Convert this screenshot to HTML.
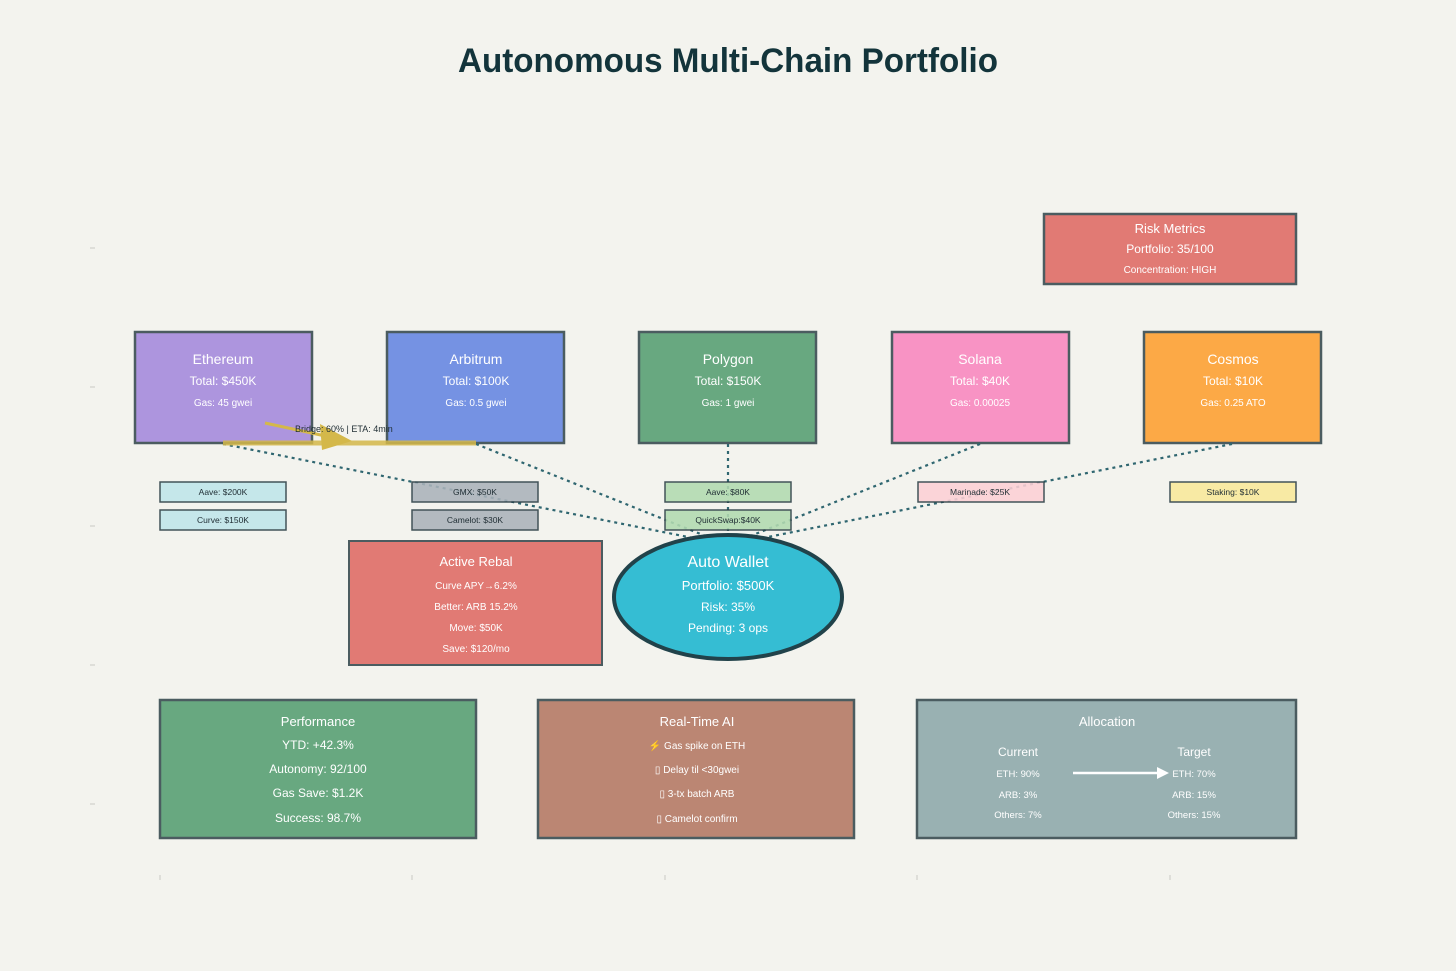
<!DOCTYPE html>
<html><head><meta charset="utf-8"><style>
html,body{margin:0;padding:0;background:#f3f3ee;}
svg{display:block;font-family:"Liberation Sans",sans-serif;}
</style></head><body>
<svg width="1456" height="971" viewBox="0 0 1456 971" xmlns="http://www.w3.org/2000/svg">
<rect width="1456" height="971" fill="#f3f3ee"/>
<text x="728" y="72" text-anchor="middle" font-size="34" font-weight="bold" fill="#13343b" textLength="540" lengthAdjust="spacingAndGlyphs">Autonomous Multi-Chain Portfolio</text>

<g stroke="#c8c8c4" stroke-width="1">
<line x1="90" y1="248" x2="95" y2="248"/><line x1="90" y1="387" x2="95" y2="387"/><line x1="90" y1="526" x2="95" y2="526"/><line x1="90" y1="665" x2="95" y2="665"/><line x1="90" y1="804" x2="95" y2="804"/>
<line x1="160" y1="875" x2="160" y2="880"/><line x1="412" y1="875" x2="412" y2="880"/><line x1="665" y1="875" x2="665" y2="880"/><line x1="917" y1="875" x2="917" y2="880"/><line x1="1170" y1="875" x2="1170" y2="880"/>
</g>

<!-- Risk -->
<rect x="1044" y="214" width="252" height="70" fill="#e17a74" stroke="#4b5c60" stroke-width="2.5"/>
<g fill="#fff" text-anchor="middle">
<text x="1170" y="233" font-size="13">Risk Metrics</text>
<text x="1170" y="253" font-size="12">Portfolio: 35/100</text>
<text x="1170" y="273" font-size="10">Concentration: HIGH</text>
</g>

<!-- chain boxes -->
<g stroke="#4b5c60" stroke-width="2.5">
<rect x="135" y="332" width="177" height="111" fill="#ad95de"/>
<rect x="387" y="332" width="177" height="111" fill="#7592e3"/>
<rect x="639" y="332" width="177" height="111" fill="#68a880"/>
<rect x="892" y="332" width="177" height="111" fill="#f893c4"/>
<rect x="1144" y="332" width="177" height="111" fill="#fca946"/>
</g>
<g fill="#fff" text-anchor="middle">
<text x="223" y="364" font-size="14">Ethereum</text><text x="223" y="385" font-size="12">Total: $450K</text><text x="223" y="406" font-size="10">Gas: 45 gwei</text>
<text x="476" y="364" font-size="14">Arbitrum</text><text x="476" y="385" font-size="12">Total: $100K</text><text x="476" y="406" font-size="10">Gas: 0.5 gwei</text>
<text x="728" y="364" font-size="14">Polygon</text><text x="728" y="385" font-size="12">Total: $150K</text><text x="728" y="406" font-size="10">Gas: 1 gwei</text>
<text x="980" y="364" font-size="14">Solana</text><text x="980" y="385" font-size="12">Total: $40K</text><text x="980" y="406" font-size="10">Gas: 0.00025</text>
<text x="1233" y="364" font-size="14">Cosmos</text><text x="1233" y="385" font-size="12">Total: $10K</text><text x="1233" y="406" font-size="10">Gas: 0.25 ATO</text>
</g>

<!-- dotted lines -->
<g stroke="#2f6670" stroke-width="2.2" stroke-dasharray="3,4" fill="none">
<line x1="223" y1="444" x2="728" y2="545"/>
<line x1="476" y1="444" x2="728" y2="545"/>
<line x1="728" y1="444" x2="728" y2="545"/>
<line x1="980" y1="444" x2="728" y2="545"/>
<line x1="1232" y1="444" x2="728" y2="545"/>
</g>

<!-- protocol boxes -->
<g stroke="#2a3d44" stroke-width="1.5" opacity="0.88">
<rect x="160" y="482" width="126" height="20" fill="#bfe6ea"/>
<rect x="160" y="510" width="126" height="20" fill="#bfe6ea"/>
<rect x="412" y="482" width="126" height="20" fill="#abb3ba"/>
<rect x="412" y="510" width="126" height="20" fill="#abb3ba"/>
<rect x="665" y="482" width="126" height="20" fill="#b2dbb0"/>
<rect x="665" y="510" width="126" height="20" fill="#b2dbb0"/>
<rect x="918" y="482" width="126" height="20" fill="#fdd0d6"/>
<rect x="1170" y="482" width="126" height="20" fill="#f9e99a"/>
</g>
<g fill="#1f2d33" text-anchor="middle" font-size="8.5">
<text x="223" y="495">Aave: $200K</text><text x="223" y="523">Curve: $150K</text>
<text x="475" y="495">GMX: $50K</text><text x="475" y="523">Camelot: $30K</text>
<text x="728" y="495">Aave: $80K</text><text x="728" y="523">QuickSwap:$40K</text>
<text x="980" y="495">Marinade: $25K</text><text x="1233" y="495">Staking: $10K</text>
</g>

<!-- bridge -->
<line x1="223" y1="443" x2="476" y2="443" stroke="#d4b84a" stroke-width="5" opacity="0.85"/>
<line x1="265" y1="423" x2="330" y2="437" stroke="#d4b84a" stroke-width="3"/>
<polygon points="320,424 352,441 322,450" fill="#d4b84a"/>
<text x="295" y="432" font-size="9" fill="#1f2d33">Bridge: 60% | ETA: 4min</text>

<!-- Active Rebal -->
<rect x="349" y="541" width="253" height="124" fill="#e17a74" stroke="#4b5c60" stroke-width="2"/>
<g fill="#fff" text-anchor="middle">
<text x="476" y="566" font-size="13">Active Rebal</text>
<text x="476" y="589" font-size="10">Curve APY→6.2%</text>
<text x="476" y="610" font-size="10">Better: ARB 15.2%</text>
<text x="476" y="631" font-size="10">Move: $50K</text>
<text x="476" y="652" font-size="10">Save: $120/mo</text>
</g>

<!-- wallet -->
<ellipse cx="728" cy="597" rx="114" ry="62" fill="#35bdd3" stroke="#21424a" stroke-width="4"/>
<g fill="#fff" text-anchor="middle">
<text x="728" y="567" font-size="16">Auto Wallet</text>
<text x="728" y="590" font-size="13">Portfolio: $500K</text>
<text x="728" y="611" font-size="12">Risk: 35%</text>
<text x="728" y="632" font-size="12">Pending: 3 ops</text>
</g>

<!-- bottom -->
<g stroke="#4b5c60" stroke-width="2.5">
<rect x="160" y="700" width="316" height="138" fill="#68a880"/>
<rect x="538" y="700" width="316" height="138" fill="#bb8673"/>
<rect x="917" y="700" width="379" height="138" fill="#99b1b2"/>
</g>
<g fill="#fff" text-anchor="middle">
<text x="318" y="726" font-size="13">Performance</text>
<text x="318" y="749" font-size="12">YTD: +42.3%</text>
<text x="318" y="773" font-size="12">Autonomy: 92/100</text>
<text x="318" y="797" font-size="12">Gas Save: $1.2K</text>
<text x="318" y="822" font-size="12">Success: 98.7%</text>
<text x="697" y="726" font-size="13">Real-Time AI</text>
<text x="697" y="749" font-size="10">⚡ Gas spike on ETH</text>
<text x="697" y="773" font-size="10">▯ Delay til &lt;30gwei</text>
<text x="697" y="797" font-size="10">▯ 3-tx batch ARB</text>
<text x="697" y="822" font-size="10">▯ Camelot confirm</text>
<text x="1107" y="726" font-size="13">Allocation</text>
<text x="1018" y="756" font-size="12">Current</text>
<text x="1194" y="756" font-size="12">Target</text>
<text x="1018" y="777" font-size="9.5">ETH: 90%</text>
<text x="1018" y="798" font-size="9.5">ARB: 3%</text>
<text x="1018" y="818" font-size="9.5">Others: 7%</text>
<text x="1194" y="777" font-size="9.5">ETH: 70%</text>
<text x="1194" y="798" font-size="9.5">ARB: 15%</text>
<text x="1194" y="818" font-size="9.5">Others: 15%</text>
</g>
<line x1="1073" y1="773" x2="1158" y2="773" stroke="#fff" stroke-width="2.5"/>
<polygon points="1157,767 1169,773 1157,779" fill="#fff"/>
</svg>
</body></html>
